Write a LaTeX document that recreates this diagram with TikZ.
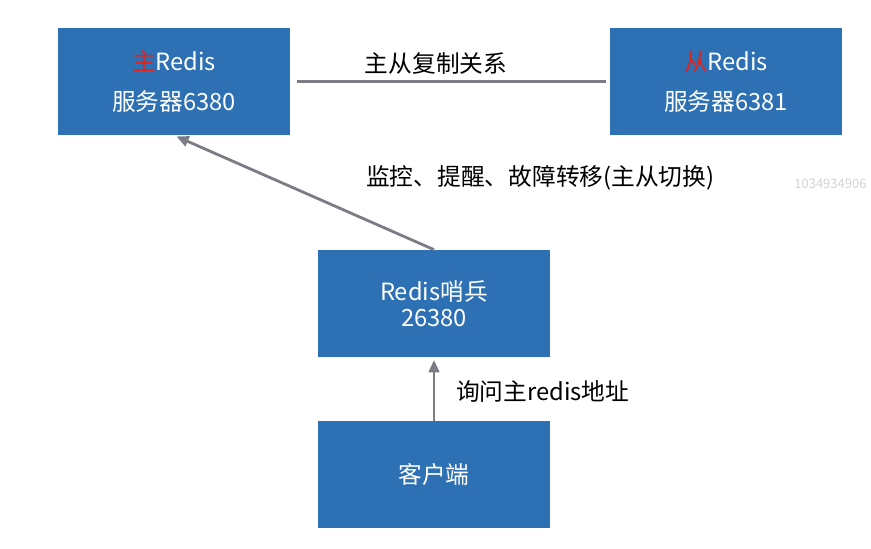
\documentclass[tikz,border=0pt]{standalone}
\usepackage{fontspec}
\setmainfont{Noto Sans CJK SC}
\usepackage{xcolor}
\usetikzlibrary{arrows.meta, positioning}
\definecolor{boxblue}{HTML}{2E70B4}
\definecolor{linegray}{HTML}{7C7C84}
\definecolor{mainred}{HTML}{E0241C}
\definecolor{markgray}{HTML}{D2D2D2}

\begin{document}
\begin{tikzpicture}[
        server/.style={
          rectangle,
          fill=boxblue,
          minimum width=4.64cm,
          minimum height=2.14cm,
          align=center,
          text=white,
          inner sep=0pt,
          font=\fontsize{13.5}{16}\selectfont
        },
        link/.style={
          linegray,
          line width=1.6pt
        },
        arrow/.style={
          link,
          -{Triangle[length=7pt,width=6pt]},
          shorten >=1.5pt
        },
        label/.style={
          font=\fontsize{13.5}{16}\selectfont,
          anchor=west
        }
      ]
      \useasboundingbox (0,0) rectangle (17.42,-10.96);

      % Servers
      \node[server] (master) at (3.48,-1.63) {{\color{mainred}主}Redis\\[0.24cm]服务器6380};
      \node[server] (slave) at (14.52,-1.63) {{\color{mainred}从}Redis\\[0.24cm]服务器6381};
      \node[server] (sentinel) at (8.68,-6.07) {Redis哨兵\\[-0.05cm]26380};
      \node[server] (client) at (8.68,-9.49) {客户端};

      % Links
      \draw[link, shorten <=0.14cm, shorten >=0.08cm] (master.east) -- (slave.west);
      \draw[arrow] (sentinel.north) -- (master.south);
      \draw[arrow] (client.north) -- (sentinel.south);

      % Labels
      \node[label, anchor=center] (copy) at (8.72,-1.26) {主从复制关系};
      \node[label] (watch) at (7.2,-3.56) {监控、提醒、故障转移(主从切换)};
      \node[label] (ask) at (9.0,-7.82) {询问主redis地址};
      \node[label, font=\fontsize{7.4}{9}\selectfont, text=markgray, inner sep=0pt] (mark) at (15.88,-3.68) {1034934906};

    \end{tikzpicture}
\end{document}
